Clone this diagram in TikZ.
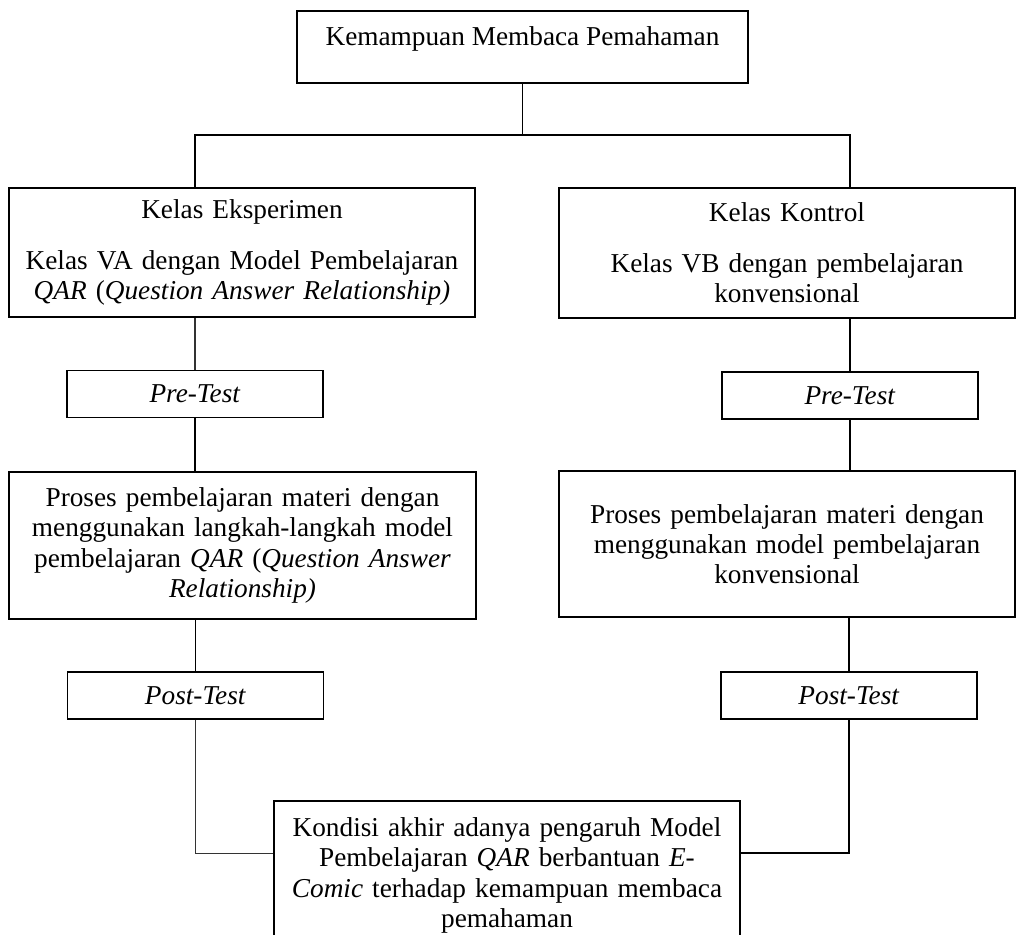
\documentclass[tikz,border=0pt]{standalone}
\usepackage{fontspec}
\setmainfont{Liberation Serif}
\usetikzlibrary{positioning,calc}

\begin{document}
\begin{tikzpicture}[
 x=0.44pt,y=-0.44pt,
 kotak/.style={draw=black,line width=.75pt,align=center,inner xsep=3pt,font=\fontsize{12}{13.3}\selectfont},
 tes/.style={kotak,minimum width=112.6pt,minimum height=20.6pt,inner ysep=0pt},
 garis/.style={draw=black,line width=.75pt},
 tipis/.style={draw=black!80,line width=.45pt}
]
\useasboundingbox (0,0) rectangle (1017,934);
\clip (0,0) rectangle (1017,934);
% kotak utama
\node[kotak,minimum width=198.4pt,inner ysep=0pt,text height=15pt,text depth=16.7pt] (kemampuan) at (522.5,47) {Kemampuan Membaca Pemahaman};
\node[kotak,text width=199pt,minimum height=56.8pt] (eksperimen) at (242,252.5) {Kelas Eksperimen\\[9pt]Kelas VA dengan Model Pembelajaran\\\textit{QAR} (\textit{Question Answer Relationship)}};
\node[kotak,text width=194.6pt,minimum height=57.2pt] (kontrol) at (787,253) {Kelas Kontrol\\[9pt]Kelas VB dengan pembelajaran\\konvensional};
% pre-test
\node[tes] (preE) at (195,394) {\textit{Pre-Test}};
\node[tes] (preK) at (850,395.5) {\textit{Pre-Test}};
% proses
\node[kotak,text width=199.5pt,minimum height=64.7pt] (prosesE) at (242.5,545.5) {Proses pembelajaran materi dengan\\menggunakan langkah-langkah model\\pembelajaran \textit{QAR} (\textit{Question Answer}\\\textit{Relationship)}};
\node[kotak,text width=194.6pt,minimum height=64.2pt] (prosesK) at (787,544) {Proses pembelajaran materi dengan\\menggunakan model pembelajaran\\konvensional};
% post-test
\node[tes] (postE) at (195.5,695.5) {\textit{Post-Test}};
\node[tes] (postK) at (849,695.5) {\textit{Post-Test}};
% kondisi akhir
\node[kotak,text width=199pt,minimum height=65.6pt] (kondisi) at (507,875.5) {Kondisi akhir adanya pengaruh Model\\Pembelajaran \textit{QAR} berbantuan \textit{E-}\\\textit{Comic} terhadap kemampuan membaca\\pemahaman};
% garis penghubung
\coordinate (cabang) at (522.5,135);
\draw[garis] (kemampuan.south) -- (cabang);
\draw[garis] (preE.north |- eksperimen.north) |- (cabang) -| (preK.north |- kontrol.north);
\draw[tipis] (preE.north |- eksperimen.south) -- (preE.north);
\draw[garis] (preK.north |- kontrol.south) -- (preK.north);
\draw[garis] (preE.south) -- (preE.south |- prosesE.north);
\draw[garis] (preK.south) -- (preK.south |- prosesK.north);
\draw[garis] (postE.north |- prosesE.south) -- (postE.north);
\draw[garis] (postK.north |- prosesK.south) -- (postK.north);
\draw[tipis] (postE.south) |- ([yshift=-23.3pt]kondisi.north west);
\draw[garis] (postK.south) |- ([yshift=-23.3pt]kondisi.north east);
\end{tikzpicture}
\end{document}
